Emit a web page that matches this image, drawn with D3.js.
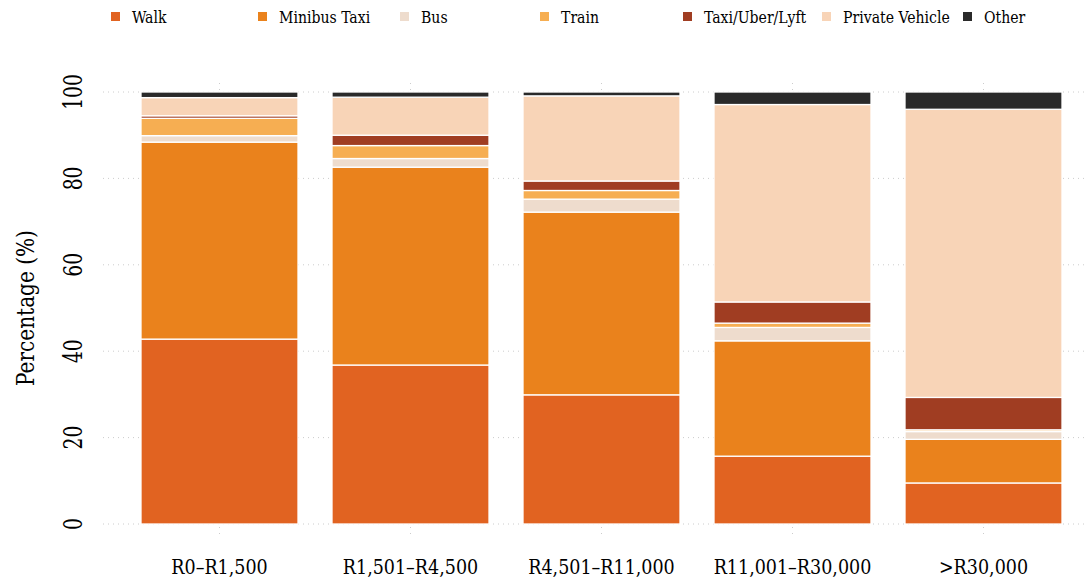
<!DOCTYPE html>
<html>
<head>
<meta charset="utf-8">
<script src="https://cdn.jsdelivr.net/npm/d3@7"></script>
<style>
  body { margin: 0; background: #fff; }
  text { font-family: "DejaVu Serif Condensed", "DejaVu Serif", serif; fill: #000; }
</style>
</head>
<body>
<svg id="chart" width="1088" height="584"></svg>
<script>
// income bands along the x axis
var incomeBands = ["R0\u2013R1,500", "R1,501\u2013R4,500", "R4,501\u2013R11,000", "R11,001\u2013R30,000", ">R30,000"];
var modes = ["Walk", "Minibus Taxi", "Bus", "Train", "Taxi/Uber/Lyft", "Private Vehicle", "Other"];
var modeColors = ["#e16321", "#ea821c", "#eedccd", "#f6ae52", "#a03d22", "#f8d4b7", "#2a2a2a"];

// share (%) of each mode per income band
var walk       = [42.8, 36.8, 29.9, 15.7, 9.5];
var minibus    = [45.6, 45.8, 42.3, 26.7, 10.1];
var bus        = [1.5, 2.0, 3.0, 3.1, 1.8];
var train      = [4.0, 3.0, 2.0, 1.0, 0.4];
var taxiUber   = [0.6, 2.4, 2.2, 4.9, 7.5];
var privateVeh = [4.2, 8.8, 19.7, 45.7, 66.7];
var other      = [1.3, 1.2, 0.9, 2.9, 4.0];

var yTicks = [0, 20, 40, 60, 80, 100];

var svg = d3.select("#chart");

var rows = incomeBands.map(function (band, i) {
    return {
        band: band,
        "Walk": walk[i],
        "Minibus Taxi": minibus[i],
        "Bus": bus[i],
        "Train": train[i],
        "Taxi/Uber/Lyft": taxiUber[i],
        "Private Vehicle": privateVeh[i],
        "Other": other[i]
    };
});

var x = d3.scaleBand()
    .domain(incomeBands)
    .range([124, 1079])
    .paddingInner(0.178)
    .paddingOuter(0.089);

var y = d3.scaleLinear()
    .domain([0, 100])
    .range([524, 92]);

var color = d3.scaleOrdinal().domain(modes).range(modeColors);

// dotted grid
svg.append("g")
    .selectAll("line.hgrid")
    .data(yTicks)
    .enter()
    .append("line")
        .attr("class", "hgrid")
        .attr("x1", 103)
        .attr("x2", 1088)
        .attr("y1", function (d) { return y(d); })
        .attr("y2", function (d) { return y(d); })
        .attr("stroke", "#cccccc")
        .attr("stroke-width", 1)
        .attr("stroke-dasharray", "1,4");

svg.append("g")
    .selectAll("line.vgrid")
    .data(incomeBands)
    .enter()
    .append("line")
        .attr("class", "vgrid")
        .attr("x1", function (d) { return x(d) + x.bandwidth() / 2; })
        .attr("x2", function (d) { return x(d) + x.bandwidth() / 2; })
        .attr("y1", 83)
        .attr("y2", 535)
        .attr("stroke", "#cccccc")
        .attr("stroke-width", 1)
        .attr("stroke-dasharray", "1,5");

// stacked bars
var stacked = d3.stack().keys(modes)(rows);

var layers = svg.append("g")
    .selectAll("g.layer")
    .data(stacked)
    .enter()
    .append("g")
        .attr("class", "layer")
        .attr("fill", function (s) { return color(s.key); });

layers.selectAll("rect")
    .data(function (s) { return s; })
    .enter()
    .append("rect")
        .attr("x", function (d) { return x(d.data.band); })
        .attr("width", x.bandwidth())
        .attr("y", function (d) { return y(d[1]); })
        .attr("height", function (d) { return Math.max(0, y(d[0]) - y(d[1])); })
        .attr("stroke", "#fff")
        .attr("stroke-width", 1.3);

// y axis labels (rotated, narrow)
svg.append("g")
    .selectAll("text.ytick")
    .data(yTicks)
    .enter()
    .append("text")
        .attr("class", "ytick")
        .attr("transform", function (d) { return "translate(82," + y(d) + ") rotate(-90) scale(0.8,1)"; })
        .attr("text-anchor", "middle")
        .attr("font-size", 26)
        .text(function (d) { return d; });

svg.append("text")
    .attr("transform", "translate(34,308) rotate(-90) scale(0.93,1)")
    .attr("text-anchor", "middle")
    .attr("font-size", 24)
    .text("Percentage (%)");

// x axis labels
svg.append("g")
    .selectAll("text.xtick")
    .data(incomeBands)
    .enter()
    .append("text")
        .attr("class", "xtick")
        .attr("transform", function (d) { return "translate(" + (x(d) + x.bandwidth() / 2) + ",574) scale(0.95,1)"; })
        .attr("text-anchor", "middle")
        .attr("font-size", 20.5)
        .text(function (d) { return d; });

// legend
var legendX = [111, 258, 400, 540, 683, 822, 963];
var legend = svg.append("g")
    .selectAll("g.legend")
    .data(modes)
    .enter()
    .append("g")
        .attr("class", "legend")
        .attr("transform", function (d, i) { return "translate(" + legendX[i] + ",17)"; });

legend.append("rect")
    .attr("x", 0)
    .attr("y", -5)
    .attr("width", 9)
    .attr("height", 9)
    .attr("fill", function (d) { return color(d); });

legend.append("text")
    .attr("transform", "translate(21,6) scale(0.92,1)")
    .attr("font-size", 17)
    .text(function (d) { return d; });
</script>
</body>
</html>
